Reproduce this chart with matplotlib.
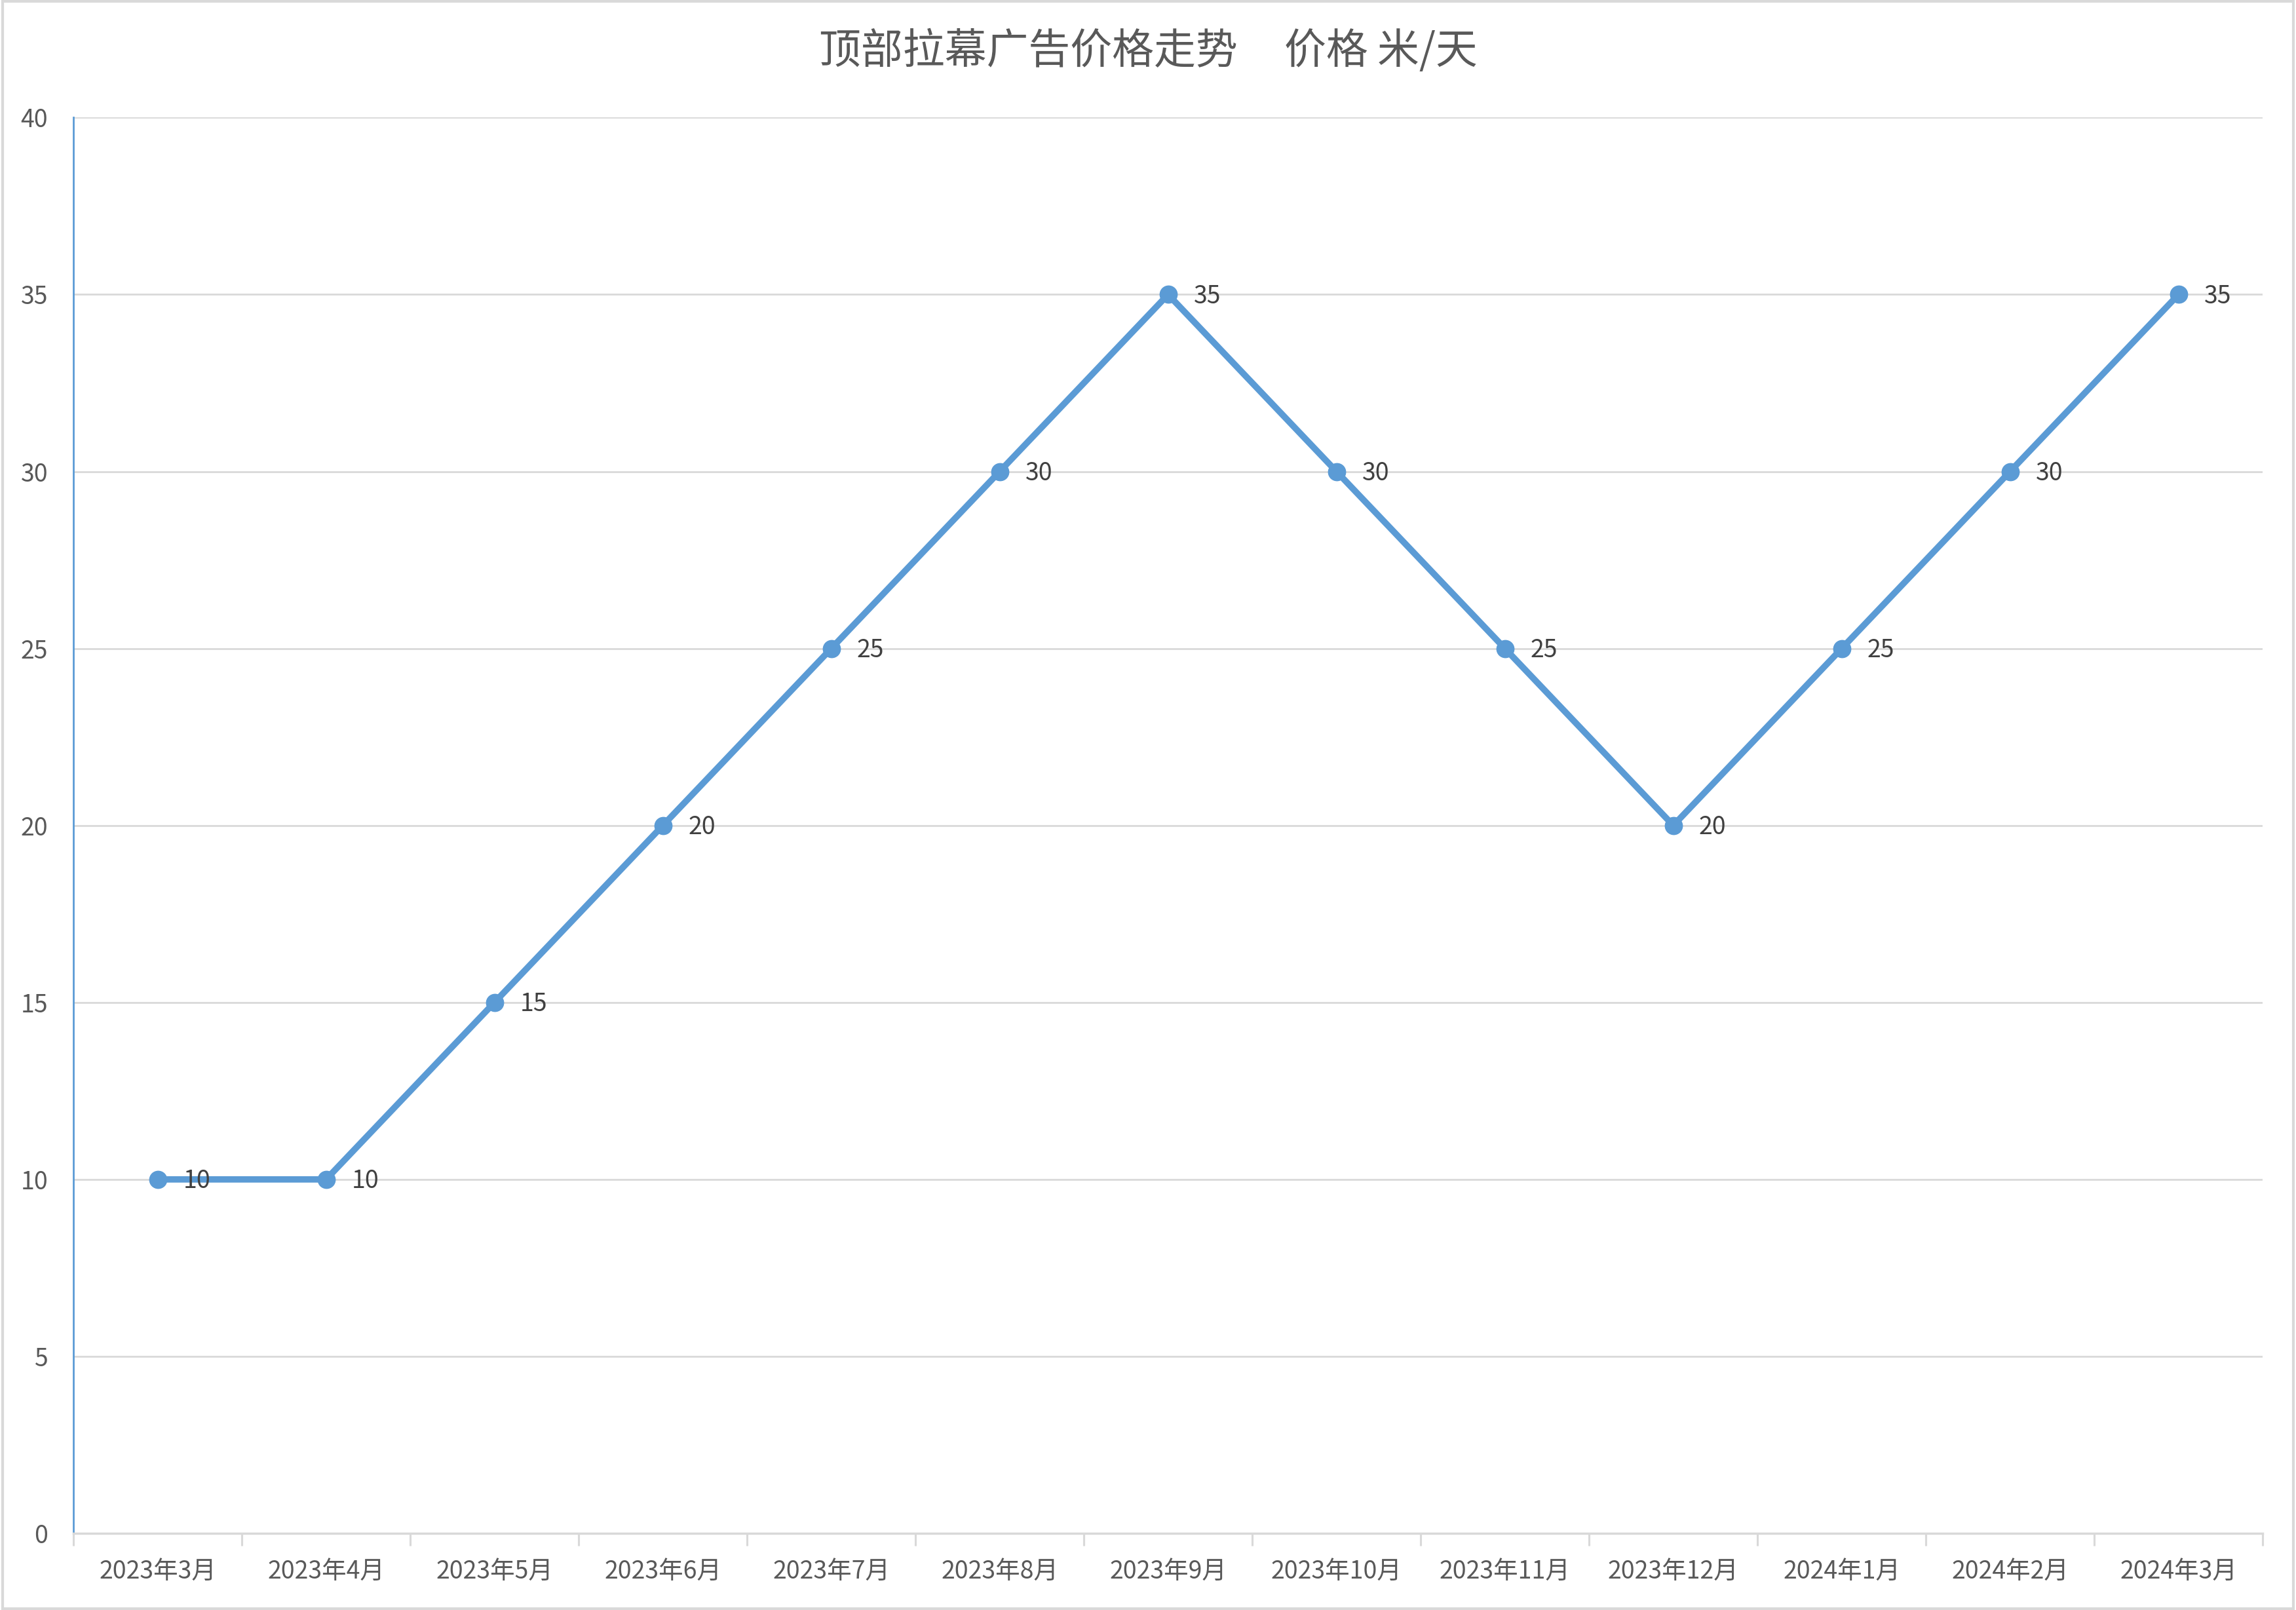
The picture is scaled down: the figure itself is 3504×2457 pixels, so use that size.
import matplotlib
matplotlib.use("Agg")
import matplotlib.pyplot as plt
from matplotlib.patches import Rectangle

plt.rcParams['font.family'] = ['Noto Sans CJK SC', 'DejaVu Sans']

# chart data
months = ['2023年3月', '2023年4月', '2023年5月', '2023年6月', '2023年7月', '2023年8月',
          '2023年9月', '2023年10月', '2023年11月', '2023年12月', '2024年1月', '2024年2月', '2024年3月']
prices = [10, 10, 15, 20, 25, 30, 35, 30, 25, 20, 25, 30, 35]
y_ticks = [0, 5, 10, 15, 20, 25, 30, 35, 40]

line_color = '#5B9BD5'
grid_color = '#D9D9D9'

fig = plt.figure(figsize=(35.04, 24.57), dpi=100)
ax = fig.add_axes([0.032, 0.0476, 0.9535, 0.8794])

x = list(range(len(months)))
ax.plot(x, prices, color=line_color, linewidth=7, marker='o', markersize=19, zorder=3)

# data labels to the right of each point
for xi, yi in zip(x, prices):
    ax.annotate(str(yi), (xi, yi), xytext=(28, -2), textcoords='offset points',
                ha='left', va='center', fontsize=27, color='#404040', zorder=4)

ax.set_xlim(-0.5, len(months) - 0.5)
ax.set_ylim(0, 40)
ax.set_yticks(y_ticks)
ax.set_yticklabels([str(v) for v in y_ticks], fontsize=27, color='#595959')
ax.tick_params(axis='y', length=0, pad=28)

ax.set_xticks(x)
ax.set_xticklabels(months, fontsize=27, color='#595959')
ax.tick_params(axis='x', which='major', length=0, pad=28)
ax.set_xticks([i - 0.5 for i in range(len(months) + 1)], minor=True)
ax.tick_params(axis='x', which='minor', length=14, width=2.2, color=grid_color)

ax.grid(axis='y', color=grid_color, linewidth=2)
ax.set_axisbelow(True)

for side in ['top', 'right']:
    ax.spines[side].set_visible(False)
ax.spines['left'].set_color(line_color)
ax.spines['left'].set_linewidth(2)
ax.spines['bottom'].set_color(grid_color)
ax.spines['bottom'].set_linewidth(2.5)

fig.text(0.5, 0.968, '顶部拉幕广告价格走势     价格 米/天', ha='center', va='center',
         fontsize=46, color='#595959')

# light border around the chart area
fig.patches.append(Rectangle((0.001, 0.001), 0.998, 0.998, transform=fig.transFigure,
                             fill=False, edgecolor=grid_color, linewidth=3))

fig.savefig('out.png', dpi=100)
